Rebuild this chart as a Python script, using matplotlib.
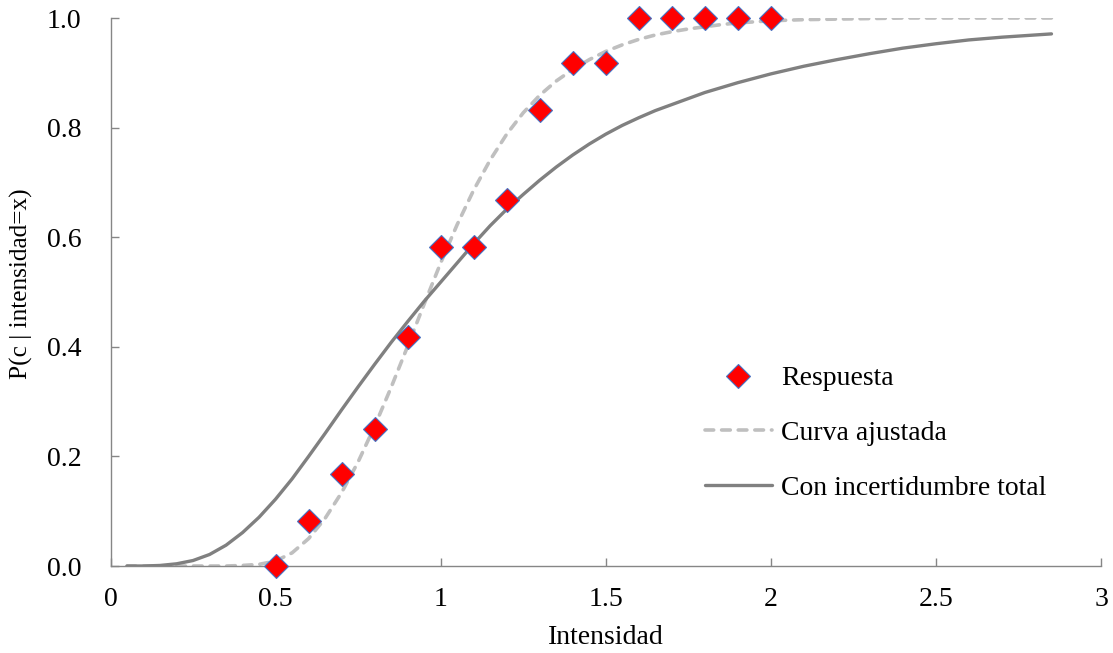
import matplotlib
matplotlib.use("Agg")
import matplotlib.pyplot as plt

# Observed responses
resp_x = [0.5, 0.6, 0.7, 0.8, 0.9, 1.0, 1.1, 1.2, 1.3, 1.4, 1.5, 1.6, 1.7, 1.8, 1.9, 2.0]
resp_y = [0.0, 0.083, 0.167, 0.25, 0.417, 0.583, 0.583, 0.667, 0.833, 0.917, 0.917,
          1.0, 1.0, 1.0, 1.0, 1.0]

# Curves
curve_x = [0.05, 0.10, 0.15, 0.20, 0.25, 0.30, 0.35, 0.40, 0.45, 0.50, 0.55, 0.60,
           0.65, 0.70, 0.75, 0.80, 0.85, 0.90, 0.95, 1.00, 1.05, 1.10, 1.15, 1.20,
           1.25, 1.30, 1.35, 1.40, 1.45, 1.50, 1.55, 1.60, 1.65, 1.70, 1.75, 1.80,
           1.85, 1.90, 1.95, 2.00, 2.10, 2.20, 2.30, 2.40, 2.50, 2.60, 2.70, 2.80, 2.85]
fit_y = [0.0, 0.0, 0.0, 0.0, 0.0, 0.0, 0.0, 0.001, 0.003, 0.009, 0.024, 0.050,
         0.087, 0.134, 0.190, 0.255, 0.326, 0.401, 0.478, 0.553, 0.623, 0.686, 0.741, 0.788,
         0.827, 0.859, 0.885, 0.906, 0.924, 0.939, 0.951, 0.961, 0.969, 0.975, 0.980, 0.984,
         0.988, 0.991, 0.993, 0.995, 0.997, 0.998, 0.999, 1.0, 1.0, 1.0, 1.0, 1.0, 1.0]
total_y = [0.0, 0.0, 0.001, 0.004, 0.010, 0.021, 0.038, 0.061, 0.089, 0.122, 0.159, 0.200,
           0.242, 0.285, 0.327, 0.368, 0.408, 0.446, 0.483, 0.518, 0.553, 0.588, 0.621, 0.651,
           0.678, 0.704, 0.728, 0.750, 0.770, 0.788, 0.804, 0.818, 0.831, 0.842, 0.853, 0.864,
           0.873, 0.882, 0.890, 0.898, 0.912, 0.924, 0.935, 0.945, 0.953, 0.960, 0.965, 0.969, 0.971]

x_ticks = [0, 0.5, 1, 1.5, 2, 2.5, 3]
x_tick_labels = ["0", "0.5", "1", "1.5", "2", "2.5", "3"]
y_ticks = [0.0, 0.2, 0.4, 0.6, 0.8, 1.0]
y_tick_labels = ["0.0", "0.2", "0.4", "0.6", "0.8", "1.0"]

plt.rcParams['font.family'] = ['Liberation Serif', 'DejaVu Serif']
FS = 20

fig = plt.figure(figsize=(11.13, 6.53), dpi=100)
ax = fig.add_axes([110.5 / 1113, 87 / 653, (1101 - 110.5) / 1113, 548 / 653])

ax.plot(curve_x, fit_y, color='#BFBFBF', lw=2.6, dashes=(2.4, 2.2),
        dash_capstyle='round', label='Curva ajustada', zorder=2)
ax.plot(curve_x, total_y, color='#808080', lw=2.4, solid_capstyle='round',
        solid_joinstyle='round', label='Con incertidumbre total', zorder=3)
ax.plot(resp_x, resp_y, linestyle='none', marker='D', markersize=12,
        markerfacecolor='#FF0000', markeredgecolor='#4472C4', markeredgewidth=0.8,
        label='Respuesta', zorder=4, clip_on=False)

ax.set_xlim(0, 3)
ax.set_ylim(0, 1)
ax.set_xticks(x_ticks)
ax.set_xticklabels(x_tick_labels)
ax.set_yticks(y_ticks)
ax.set_yticklabels(y_tick_labels)

for s in ['top', 'right']:
    ax.spines[s].set_visible(False)
for s in ['left', 'bottom']:
    ax.spines[s].set_color('#868686')
    ax.spines[s].set_linewidth(1.0)

ax.tick_params(axis='both', direction='in', length=5.5, width=1.0, color='#868686',
               labelsize=FS, labelcolor='black')
ax.tick_params(axis='y', pad=21)
ax.tick_params(axis='x', pad=15)

ax.set_xlabel('Intensidad', fontsize=FS)
ax.set_ylabel('P(c | intensidad=x)', fontsize=18.2)
ax.xaxis.set_label_coords(0.5, -0.108)
ax.yaxis.set_label_coords(-0.078, 0.515)

handles, labels = ax.get_legend_handles_labels()
order = [2, 0, 1]
leg = fig.legend([handles[i] for i in order], [labels[i] for i in order],
                 loc='upper left', bbox_to_anchor=(705 / 1113, 1 - 366 / 653),
                 frameon=False, fontsize=FS, handlelength=2.4, handletextpad=0.33,
                 labelspacing=1.05, borderpad=0, borderaxespad=0)

fig.savefig('out.png', dpi=100)
